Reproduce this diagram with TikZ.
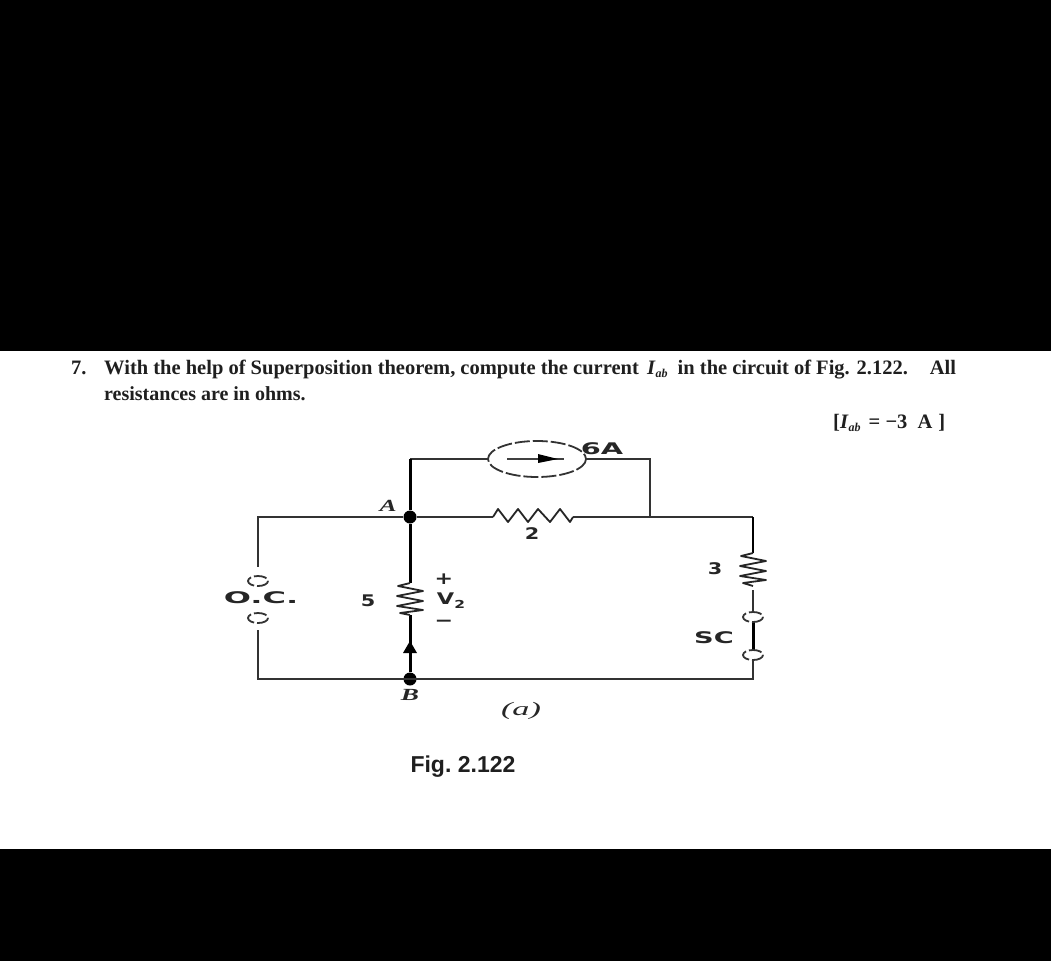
\documentclass[tikz,border=0pt]{standalone}
\usepackage{fontspec}
\usepackage{graphicx}
\setmainfont{Liberation Serif}
\newfontfamily\helv{Liberation Sans}
\newfontfamily\wide{DejaVu Sans}
\usetikzlibrary{arrows.meta}
\newcommand{\wdn}[2][1.7]{\scalebox{#1}[1]{#2}}
\newcommand{\abidx}{\raisebox{-3pt}{\fontsize{12}{12}\selectfont\textit{ab}}}
\tikzset{
  wire/.style={draw=black!80,line width=2pt,line join=miter},
  heavy/.style={draw=black,line width=3pt},
  res/.style={draw=black!85,line width=1.8pt,line join=round},
  term/.style={draw=black!80,line width=1.8pt,dash pattern=on 13pt off 3pt},
  dotnode/.style={circle,fill=black,inner sep=0pt,minimum size=13pt},
  para/.style={font=\fontsize{20.5}{24}\selectfont\bfseries,anchor=base west,inner sep=0pt,text=black!88},
  lab/.style={font=\wide\fontsize{16}{18}\selectfont\bfseries,inner sep=0pt,text=black!85},
  itlab/.style={font=\fontsize{17}{20}\selectfont\bfseries\itshape,inner sep=0pt,text=black!85}
}
\begin{document}
\begin{tikzpicture}[x=1pt,y=-1pt]
\useasboundingbox (0,0) rectangle (1051,961);
\fill[white] (0,0) rectangle (1051,961);
\fill[black] (0,0) rectangle (1051,351);
\fill[black] (0,849) rectangle (1051,961);
% text
\node[para] (num) at (71,374) {7.};
\node[para] (l1) at (104,374) {With the help of Superposition theorem, compute the current\hspace{3pt} \textit{I}\abidx\hspace{5pt} in the circuit of Fig. 2.122.\hspace{15pt} All};
\node[para] (l2) at (104,400) {\fontsize{20}{24}\selectfont resistances are in ohms.};
\node[para] (ans) at (833,428) {[\textit{I}\abidx\hspace{3pt} = −3\hspace{5pt} A\hspace{6pt}]};
% nodes
\coordinate (TL) at (410,459);
\coordinate (TR) at (650,459);
\coordinate (M) at (650,517);
\coordinate (CL) at (488,459);
\coordinate (CR) at (586,459);
\coordinate (OL) at (258,517);
\coordinate (BL) at (258,679);
\coordinate (OR) at (753,517);
\coordinate (BR) at (753,679);
\node[dotnode] (A) at (410,517) {};
\node[dotnode] (B) at (410,679) {};
% wires
\draw[wire] (CL) -- (TL);
\draw[heavy] (TL) -- (A);
\draw[wire] (CR) -- (TR) -- (M);
\draw[wire] (A) -- (493,517);
\draw[wire] (573,517) -- (OR);
\draw[wire] (A) -- (OL) -- (258,567);
\draw[wire] (258,630) -- (BL) -- (BR) -- (753,660);
% current source
\draw[black!80,line width=1.8pt,dash pattern=on 15pt off 3pt] (537,459) ellipse [x radius=49,y radius=18];
\draw[black!75,line width=1.6pt] (507,459) -- (564,459);
\fill[black] (538,454) -- (558,459) -- (538,463) -- cycle;
% resistor 2
\draw[res] (493,517) -- (498,509) -- (508,522) -- (518,509) -- (528,522) -- (538,509) -- (550,522) -- (560,509) -- (570,522) -- (573,517);
% branch AB
\draw[heavy] (A) -- (410,583);
\draw[heavy] (410,615) -- (B);
\fill[black] (410,641) -- (417,653) -- (403,653) -- cycle;
\draw[res] (410,583) -- (398,586) -- (423,591) -- (397,596) -- (423,601) -- (397,606) -- (423,610) -- (400,613) -- (410,615);
% right branch
\draw[heavy,line width=2.4pt] (OR) -- (753,553);
\draw[res] (753,553) -- (741,556) -- (766,561) -- (740,566) -- (766,571) -- (740,576) -- (766,580) -- (743,583) -- (753,586);
\draw[wire] (753,590) -- (753,612);
\draw[heavy] (753,622) -- (753,650);
% open-circuit terminals
\draw[term] (258,581) ellipse [x radius=10,y radius=5];
\draw[term] (258,618) ellipse [x radius=10,y radius=5];
% short-circuit terminals
\draw[term] (753,617) ellipse [x radius=10,y radius=5];
\draw[term] (753,655) ellipse [x radius=10,y radius=5];
% labels
\node[itlab] (la) at (388,506) {\wdn[1.5]{A}};
\node[itlab] (lb) at (410,695) {\wdn[1.6]{B}};
\node[lab] (l6a) at (602,449) {\wdn[1.8]{6A}};
\node[lab] (l2r) at (532,534) {\wdn[1.3]{2}};
\node[lab] (l3r) at (715,569) {\wdn[1.3]{3}};
\node[lab] (lsc) at (714,638) {\wdn{SC}};
\node[lab] (l5r) at (368,601) {\wdn[1.3]{5}};
\node[lab] (loc) at (261,598) {\wdn[2]{O.C.}};
\node[lab,font=\wide\fontsize{17}{18}\selectfont\bfseries] (lplus) at (444,579) {\wdn[1.3]{+}};
\node[lab,font=\wide\fontsize{16}{18}\selectfont\bfseries] (lv) at (451,601) {\wdn[1.4]{V\raisebox{-4pt}{\fontsize{11}{11}\selectfont 2}}};
\node[lab,font=\wide\fontsize{17}{18}\selectfont\bfseries] (lminus) at (444,623) {\wdn[1.3]{−}};
\node[itlab,font=\fontsize{19}{20}\selectfont\itshape] (cap) at (521,711) {\wdn[1.8]{(a)}};
\node[font=\helv\fontsize{23}{24}\selectfont\bfseries,inner sep=0pt,text=black!88] (fig) at (463,767) {Fig.\hspace{-2pt} 2.122};
\end{tikzpicture}
\end{document}
